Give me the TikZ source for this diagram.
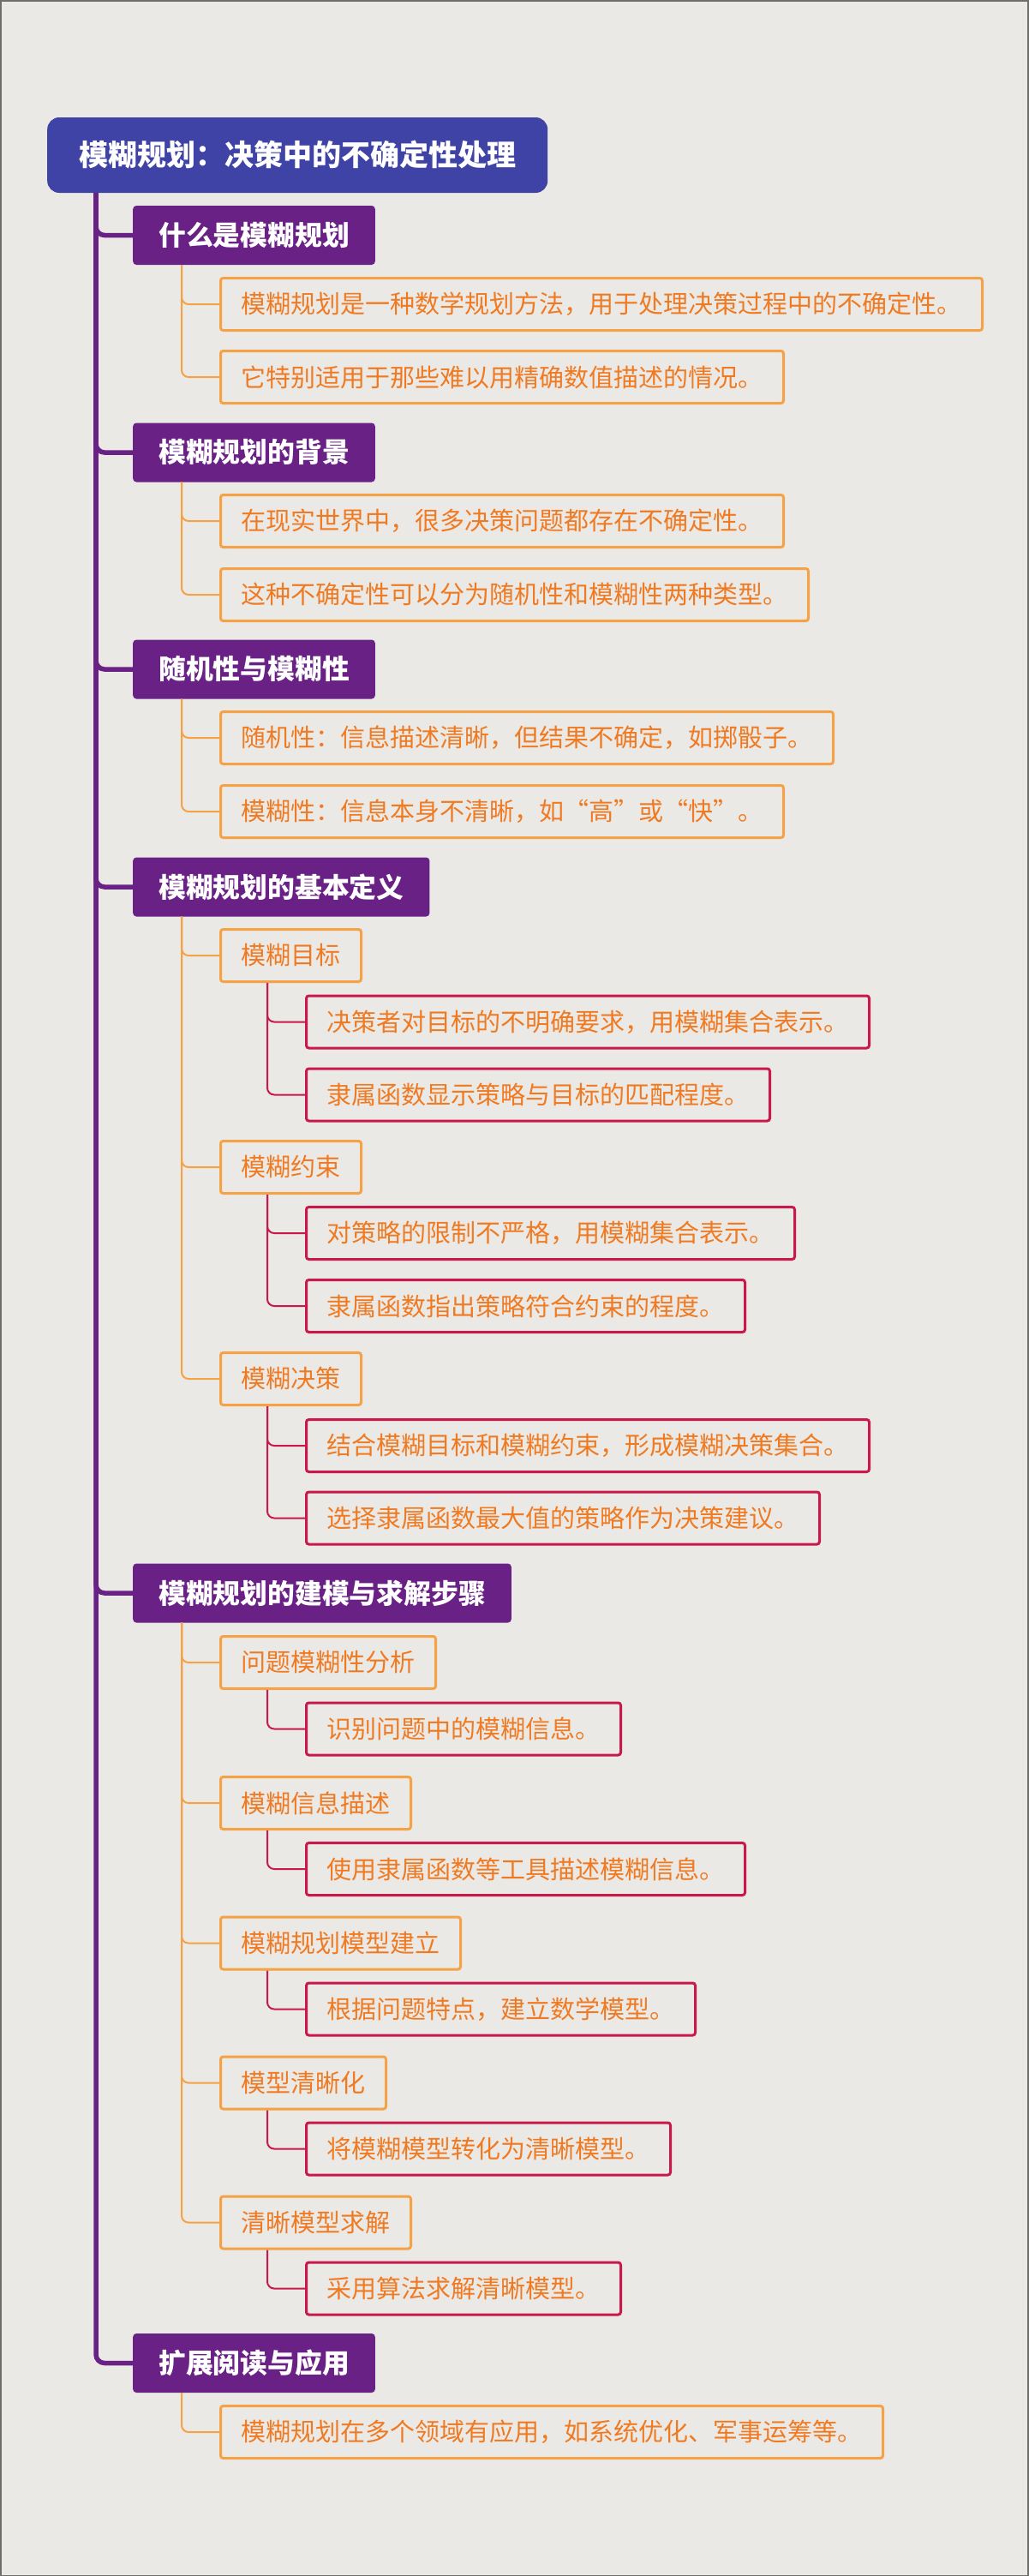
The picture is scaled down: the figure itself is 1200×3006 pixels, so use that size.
\documentclass[tikz,border=0pt]{standalone}
\usepackage{fontspec}
\newfontfamily\cjk{Noto Sans CJK SC}
\definecolor{bgc}{HTML}{EAE9E5}
\definecolor{framec}{HTML}{6E6E6A}
\definecolor{rootblue}{HTML}{4043A6}
\definecolor{purp}{HTML}{6A2185}
\definecolor{orng}{HTML}{F5A246}
\definecolor{crim}{HTML}{C9184A}
\definecolor{txto}{HTML}{F07A22}
\tikzset{
  rootbox/.style={fill=rootblue, rounded corners=14pt, text=white, font=\cjk\bfseries\fontsize{34}{34}\selectfont, minimum height=88pt, inner xsep=37pt, anchor=west},
  onebox/.style={fill=purp, rounded corners=4pt, text=white, font=\cjk\bfseries\fontsize{31.8}{32}\selectfont, minimum height=69pt, inner xsep=30pt, anchor=west},
  twobox/.style={draw=orng, line width=3pt, rounded corners=3pt, text=txto, font=\cjk\fontsize{29}{29}\selectfont, minimum height=61pt, inner xsep=24pt, anchor=west},
  threebox/.style={twobox, draw=crim},
  trunkline/.style={draw=purp, line width=5.5pt, rounded corners=10pt},
  contwo/.style={draw=orng, line width=2pt, rounded corners=8pt},
  conthree/.style={draw=crim, line width=2pt, rounded corners=8pt},
}
\begin{document}
\begin{tikzpicture}[x=1pt,y=-1pt]
\useasboundingbox (0,0) rectangle (1200,3006);
\fill[bgc] (0,0) rectangle (1200,3006);
\draw[framec, line width=3pt] (0,0) rectangle (1200,3006);

\node[rootbox] (root) at (55,181) {模糊规划：决策中的不确定性处理};

\node[onebox] (A) at (155,274.5) {什么是模糊规划};
\node[twobox] (A1) at (256,355) {模糊规划是一种数学规划方法，用于处理决策过程中的不确定性。};
\node[twobox] (A2) at (256,440) {它特别适用于那些难以用精确数值描述的情况。};

\node[onebox] (B) at (155,528) {模糊规划的背景};
\node[twobox] (B1) at (256,608) {在现实世界中，很多决策问题都存在不确定性。};
\node[twobox] (B2) at (256,694) {这种不确定性可以分为随机性和模糊性两种类型。};

\node[onebox] (C) at (155,781) {随机性与模糊性};
\node[twobox] (C1) at (256,861) {随机性：信息描述清晰，但结果不确定，如掷骰子。};
\node[twobox] (C2) at (256,947) {模糊性：信息本身不清晰，如“高”或“快”。};

\node[onebox] (D) at (155,1035) {模糊规划的基本定义};
\node[twobox] (D1) at (256,1115) {模糊目标};
\node[threebox] (D11) at (356,1192.5) {决策者对目标的不明确要求，用模糊集合表示。};
\node[threebox] (D12) at (356,1277.5) {隶属函数显示策略与目标的匹配程度。};
\node[twobox] (D2) at (256,1362) {模糊约束};
\node[threebox] (D21) at (356,1439) {对策略的限制不严格，用模糊集合表示。};
\node[threebox] (D22) at (356,1524) {隶属函数指出策略符合约束的程度。};
\node[twobox] (D3) at (256,1609) {模糊决策};
\node[threebox] (D31) at (356,1687) {结合模糊目标和模糊约束，形成模糊决策集合。};
\node[threebox] (D32) at (356,1771.5) {选择隶属函数最大值的策略作为决策建议。};

\node[onebox] (E) at (155,1859) {模糊规划的建模与求解步骤};
\node[twobox] (E1) at (256,1940) {问题模糊性分析};
\node[threebox] (E11) at (356,2017.5) {识别问题中的模糊信息。};
\node[twobox] (E2) at (256,2104) {模糊信息描述};
\node[threebox] (E21) at (356,2181) {使用隶属函数等工具描述模糊信息。};
\node[twobox] (E3) at (256,2267.5) {模糊规划模型建立};
\node[threebox] (E31) at (356,2344.5) {根据问题特点，建立数学模型。};
\node[twobox] (E4) at (256,2430.5) {模型清晰化};
\node[threebox] (E41) at (356,2507.5) {将模糊模型转化为清晰模型。};
\node[twobox] (E5) at (256,2593.5) {清晰模型求解};
\node[threebox] (E51) at (356,2670.5) {采用算法求解清晰模型。};

\node[onebox] (F) at (155,2757.5) {扩展阅读与应用};
\node[twobox] (F1) at (256,2838) {模糊规划在多个领域有应用，如系统优化、军事运筹等。};

% trunk connectors
\foreach \c in {A,B,C,D,E,F}
  \draw[trunkline] ([xshift=57pt]root.south west) |- (\c.west);

% level two connectors
\foreach \p/\c in {A/A1,A/A2,B/B1,B/B2,C/C1,C/C2,D/D1,D/D2,D/D3,E/E1,E/E2,E/E3,E/E4,E/E5,F/F1}
  \draw[contwo] ([xshift=57pt]\p.south west) |- (\c.west);

% level three connectors
\foreach \p/\c in {D1/D11,D1/D12,D2/D21,D2/D22,D3/D31,D3/D32,E1/E11,E2/E21,E3/E31,E4/E41,E5/E51}
  \draw[conthree] ([xshift=56pt]\p.south west) |- (\c.west);
\end{tikzpicture}
\end{document}
